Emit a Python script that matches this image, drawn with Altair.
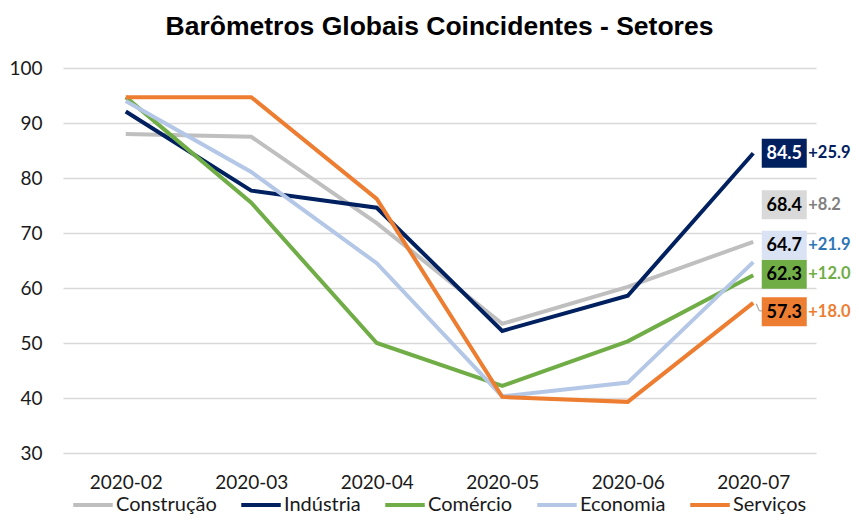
import altair as alt
import pandas as pd

months = ["2020-02", "2020-03", "2020-04", "2020-05", "2020-06", "2020-07"]
series = ["Construção", "Indústria", "Comércio", "Economia", "Serviços"]
construcao = [88.0, 87.5, 71.8, 53.5, 60.2, 68.4]
industria = [92.1, 77.7, 74.6, 52.2, 58.6, 84.5]
comercio = [94.7, 75.5, 50.0, 42.2, 50.3, 62.3]
economia = [94.0, 81.1, 64.5, 40.3, 42.8, 64.7]
servicos = [94.7, 94.7, 76.2, 40.2, 39.3, 57.3]
deltas = ["+8.2", "+25.9", "+12.0", "+21.9", "+18.0"]

line_colors = ["#bfbfbf", "#002060", "#70ad47", "#b4c7e7", "#ed7d31"]
box_colors = ["#d9d9d9", "#002060", "#70ad47", "#dae3f3", "#ed7d31"]
box_text_colors = ["black", "white", "black", "black", "black"]
delta_colors = ["#808080", "#002060", "#70ad47", "#2e75b6", "#ed7d31"]
nudges = [-37, 0, -1, -17, 9]  # pixel nudges of end labels

values = [construcao, industria, comercio, economia, servicos]
rows = []
for s, vals in zip(series, values):
    for m, v in zip(months, vals):
        rows.append({"mes": m, "setor": s, "valor": v})
df = pd.DataFrame(rows)

FONT = "Lato"

x_scale = alt.Scale(type="point", domain=months, padding=0.5)
y_scale = alt.Scale(domain=[30, 100], nice=False, zero=False)

lines = alt.Chart(df).mark_line(strokeWidth=4, strokeJoin="miter").encode(
    x=alt.X("mes:N", scale=x_scale, sort=months,
            axis=alt.Axis(title=None, labelAngle=0, ticks=False, domain=False,
                          grid=False, labelPadding=20, labelFontSize=19,
                          labelFont=FONT, labelColor="#1a1a1a")),
    y=alt.Y("valor:Q", scale=y_scale,
            axis=alt.Axis(title=None, values=[30, 40, 50, 60, 70, 80, 90, 100],
                          ticks=False, domain=False, gridColor="#d9d9d9",
                          gridWidth=1.5, labelPadding=21, labelFontSize=19,
                          labelFont=FONT, labelColor="#1a1a1a")),
    color=alt.Color("setor:N", scale=alt.Scale(domain=series, range=line_colors),
                    sort=series,
                    legend=alt.Legend(title=None, orient="none", direction="horizontal",
                                      legendX=8, legendY=415, symbolType="stroke",
                                      symbolSize=1560, symbolStrokeWidth=4,
                                      labelFont=FONT, labelFontSize=20,
                                      labelColor="#1a1a1a", labelOffset=1,
                                      columnPadding=16, padding=0)),
)

layers = [lines]

# leader line for Serviços
last = pd.DataFrame({"mes": ["2020-07"], "valor": [servicos[-1]]})
layers.append(alt.Chart(last).mark_rule(color="#a6a6a6", strokeWidth=1.2,
                                        xOffset=3, x2Offset=6, yOffset=1, y2Offset=8).encode(
    x=alt.X("mes:N", scale=x_scale), y=alt.Y("valor:Q", scale=y_scale),
    x2=alt.X2("mes:N"), y2=alt.Y2("valor:Q")))
layers.append(alt.Chart(last).mark_rule(color="#a6a6a6", strokeWidth=1.2,
                                        xOffset=6, x2Offset=10, yOffset=8, y2Offset=8).encode(
    x=alt.X("mes:N", scale=x_scale), y=alt.Y("valor:Q", scale=y_scale),
    x2=alt.X2("mes:N"), y2=alt.Y2("valor:Q")))

for i, s in enumerate(series):
    d = pd.DataFrame({"mes": ["2020-07"], "valor": [values[i][-1]],
                      "lab": [f"{values[i][-1]:.1f}"], "delta": [deltas[i]]})
    base = alt.Chart(d).encode(x=alt.X("mes:N", scale=x_scale),
                               y=alt.Y("valor:Q", scale=y_scale))
    layers.append(base.mark_rect(width=45, height=29, xOffset=31, yOffset=nudges[i],
                                 color=box_colors[i]))
    layers.append(base.mark_text(xOffset=31, yOffset=nudges[i] + 1, fontSize=18,
                                 fontWeight="bold", font=FONT, color=box_text_colors[i]
                                 ).encode(text="lab:N"))
    layers.append(base.mark_text(xOffset=55, yOffset=nudges[i], align="left", fontSize=16.5,
                                 fontWeight="bold", font=FONT, color=delta_colors[i]
                                 ).encode(text="delta:N"))

chart = alt.layer(*layers).properties(
    width=753, height=385,
    autosize=alt.AutoSizeParams(type="none"),
    padding={"left": 55, "top": 60, "right": 35, "bottom": 62},
    title=alt.Title("Barômetros Globais Coincidentes - Setores", font="Liberation Sans",
                    fontSize=26.5, fontWeight="bold", color="black", anchor="middle",
                    offset=19),
).configure_view(stroke=None)

chart.save("out.html", embed_options={"renderer": "svg", "actions": False})
